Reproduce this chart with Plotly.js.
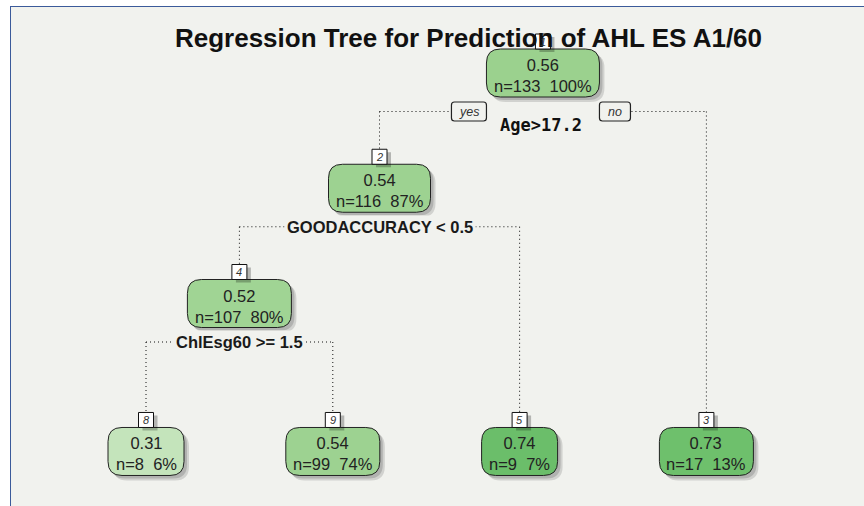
<!DOCTYPE html>
<html><head><meta charset="utf-8">
<script src="https://cdn.plot.ly/plotly-3.0.1.min.js"></script>
<style>
html,body{margin:0;padding:0;background:#ffffff;overflow:hidden;}
#frame{position:absolute;left:10px;top:6px;width:853px;height:499px;border-left:1px solid #3b5a9a;border-top:1px solid #3b5a9a;background:#f1f2ee;}
#chart{width:853px;height:499px;}
</style></head><body><div id="frame"><div id="chart"></div></div>
<script>
// ---- data ----
const chartTitle   = 'Regression Tree for Prediction of AHL ES A1/60';
const nodeIds      = [1, 2, 3, 4, 5, 8, 9];
const nodeValues   = [0.56, 0.54, 0.73, 0.52, 0.74, 0.31, 0.54];
const nodeCounts   = [133, 116, 17, 107, 9, 8, 99];
const nodePercents = [100, 87, 13, 80, 7, 6, 74];
const splitNodeIds = [1, 2, 4];
const splitLabels  = ['Age>17.2', 'GOODACCURACY < 0.5', 'ChlEsg60 >= 1.5'];
const branchLabels = ['yes', 'no'];

// ---- styles ----
const fillById = {1:'#9bd18e', 2:'#9dd291', 3:'#6ec06c', 4:'#a0d494', 5:'#6bbe6a', 8:'#c4e4bb', 9:'#9dd291'};
const BG = '#f1f2ee';
const TXT = '#222222';
const FONT = '"Liberation Sans", Arial, sans-serif';
const NODE_FS = 16.5;
const BOX_H = 48, RAD = 14, NUM = 15, LINE_DROP = 38.5;
const W = 853, H = 499;
const PPU_X = 186.8, PPU_Y = 115.25;
const xRange = [-135 / PPU_X, -135 / PPU_X + W / PPU_X];
const yTop = -66 / PPU_Y;
const yRange = [yTop + H / PPU_Y, yTop];   // reversed: depth grows downward
const LEAF_LEVEL = 3.284;

// ---- tree layout from rpart node numbering ----
const has = id => nodeIds.indexOf(id) >= 0;
const pos = {};
let leafIdx = 0;
function place(id) {
  const d = Math.floor(Math.log2(id));
  if (has(2 * id)) {
    place(2 * id); place(2 * id + 1);
    pos[id] = {x: (pos[2 * id].x + pos[2 * id + 1].x) / 2, y: d, leaf: false};
  } else {
    pos[id] = {x: leafIdx++, y: LEAF_LEVEL, leaf: true};
  }
}
place(1);

const ctx = document.createElement('canvas').getContext('2d');
ctx.font = NODE_FS + 'px "Liberation Sans"';
const nbsp = '\u00a0\u00a0';

function rr(x0, y0, x1, y1, r) {
  return `M ${x0 + r},${y0} L ${x1 - r},${y0} Q ${x1},${y0} ${x1},${y0 + r} L ${x1},${y1 - r} Q ${x1},${y1} ${x1 - r},${y1} L ${x0 + r},${y1} Q ${x0},${y1} ${x0},${y1 - r} L ${x0},${y0 + r} Q ${x0},${y0} ${x0 + r},${y0} Z`;
}
function pxShape(xa, ya, path, fill, lineColor, lw) {
  return {type: 'path', xref: 'x', yref: 'y', xsizemode: 'pixel', ysizemode: 'pixel',
    xanchor: xa, yanchor: ya, path: path, fillcolor: fill,
    line: {color: lineColor, width: lw}, layer: 'above'};
}

const lineShapes = [], boxShapes = [], annotations = [];
const dotLine = {color: '#111', width: 1, dash: '1px,3px'};
const boxW = {};
nodeIds.forEach((id, i) => {
  const l2 = `n=${nodeCounts[i]}${nbsp}${nodePercents[i]}%`;
  boxW[id] = Math.round(Math.max(ctx.measureText(l2).width, ctx.measureText(String(nodeValues[i])).width) + 15);
});

// connectors
nodeIds.forEach(id => {
  if (!has(2 * id)) return;
  const p = pos[id], L = pos[2 * id], R = pos[2 * id + 1];
  const yLine = p.y + LINE_DROP / PPU_Y;
  if (id === 1) {
    const half = boxW[id] / 2 / PPU_X;
    lineShapes.push({type: 'line', xref: 'x', yref: 'y', x0: L.x, x1: p.x - half, y0: yLine, y1: yLine, line: dotLine, layer: 'above'});
    lineShapes.push({type: 'line', xref: 'x', yref: 'y', x0: p.x + half, x1: R.x, y0: yLine, y1: yLine, line: dotLine, layer: 'above'});
  } else {
    lineShapes.push({type: 'line', xref: 'x', yref: 'y', x0: L.x, x1: R.x, y0: yLine, y1: yLine, line: dotLine, layer: 'above'});
  }
  [L, R].forEach(c => {
    lineShapes.push({type: 'line', xref: 'x', yref: 'y', x0: c.x, x1: c.x, y0: yLine,
      y1: c.y - (BOX_H / 2 + NUM) / PPU_Y, line: dotLine, layer: 'above'});
  });
});

// node boxes and texts
nodeIds.forEach((id, i) => {
  const p = pos[id], w = boxW[id], hw = w / 2, hh = BOX_H / 2;
  boxShapes.push(pxShape(p.x, p.y, rr(-hw + 5, -hh - 5, hw + 5, hh - 5, RAD), 'rgba(0,0,0,0.13)', 'rgba(0,0,0,0)', 0));
  boxShapes.push(pxShape(p.x, p.y, rr(-hw + 3, -hh - 3, hw + 3, hh - 3, RAD), 'rgba(0,0,0,0.15)', 'rgba(0,0,0,0)', 0));
  boxShapes.push(pxShape(p.x, p.y, rr(-hw, -hh, hw, hh, RAD), fillById[id], '#222', 1));
  // number tag
  const t0 = hh, t1 = hh + NUM;
  boxShapes.push(pxShape(p.x, p.y, `M ${-7.5 + 4},${t0 - 3} L ${7.5 + 4},${t0 - 3} L ${7.5 + 4},${t1 - 3} L ${-7.5 + 4},${t1 - 3} Z`, 'rgba(0,0,0,0.25)', 'rgba(0,0,0,0)', 0));
  boxShapes.push(pxShape(p.x, p.y, `M -7.5,${t0} L 7.5,${t0} L 7.5,${t1} L -7.5,${t1} Z`, '#ffffff', '#111', 1));
  annotations.push({x: p.x, y: p.y, xref: 'x', yref: 'y', showarrow: false, yshift: hh + NUM / 2,
    text: `<i>${id}</i>`, font: {family: FONT, size: 11, color: '#333'}});
  annotations.push({x: p.x, y: p.y, xref: 'x', yref: 'y', showarrow: false, yshift: -2.5,
    text: `${nodeValues[i].toFixed(2)}<br>n=${nodeCounts[i]}${nbsp}${nodePercents[i]}%`,
    font: {family: FONT, size: NODE_FS, color: TXT}});
});

// split labels
splitNodeIds.forEach((id, k) => {
  const p = pos[id];
  if (id === 1) {
    annotations.push({x: p.x, y: p.y, xref: 'x', yref: 'y', showarrow: false, yshift: -52, xshift: -1.5,
      text: `<b>${splitLabels[k]}</b>`, font: {family: '"DejaVu Sans Mono", monospace', size: 17, color: '#111'}});
    const hw = boxW[id] / 2;
    [[-hw - 35, -hw, branchLabels[0]], [hw, hw + 31, branchLabels[1]]].forEach(b => {
      boxShapes.push(pxShape(p.x, p.y, rr(b[0], -LINE_DROP - 9.5, b[1], -LINE_DROP + 9.5, 3), BG, '#222', 1.2));
      annotations.push({x: p.x, y: p.y, xref: 'x', yref: 'y', showarrow: false,
        xshift: (b[0] + b[1]) / 2, yshift: -LINE_DROP,
        text: `<i>${b[2]}</i>`, font: {family: FONT, size: 12.5, color: '#333'}});
    });
  } else {
    annotations.push({x: p.x, y: p.y, xref: 'x', yref: 'y', showarrow: false, yshift: -LINE_DROP,
      text: `<b>${splitLabels[k]}</b>`, bgcolor: BG, borderpad: 2,
      font: {family: FONT, size: 16.5, color: '#1a1a1a'}});
  }
});

const trace = {type: 'scatter', mode: 'markers', x: nodeIds.map(id => pos[id].x), y: nodeIds.map(id => pos[id].y),
  marker: {size: 1, opacity: 0}, hoverinfo: 'skip', showlegend: false};

const layout = {
  width: W, height: H, margin: {l: 0, r: 0, t: 0, b: 0},
  paper_bgcolor: BG, plot_bgcolor: BG,
  xaxis: {range: xRange, visible: false, fixedrange: true},
  yaxis: {range: yRange, visible: false, fixedrange: true},
  title: {text: `<b>${chartTitle}</b>`, font: {family: FONT, size: 26, color: '#111'},
    x: 457.5 / W, xanchor: 'center', y: 1 - 31 / H, yanchor: 'middle'},
  shapes: lineShapes.concat(boxShapes),
  annotations: annotations,
  showlegend: false
};
Plotly.newPlot('chart', [trace], layout, {displayModeBar: false, staticPlot: true});
</script>
</body></html>
